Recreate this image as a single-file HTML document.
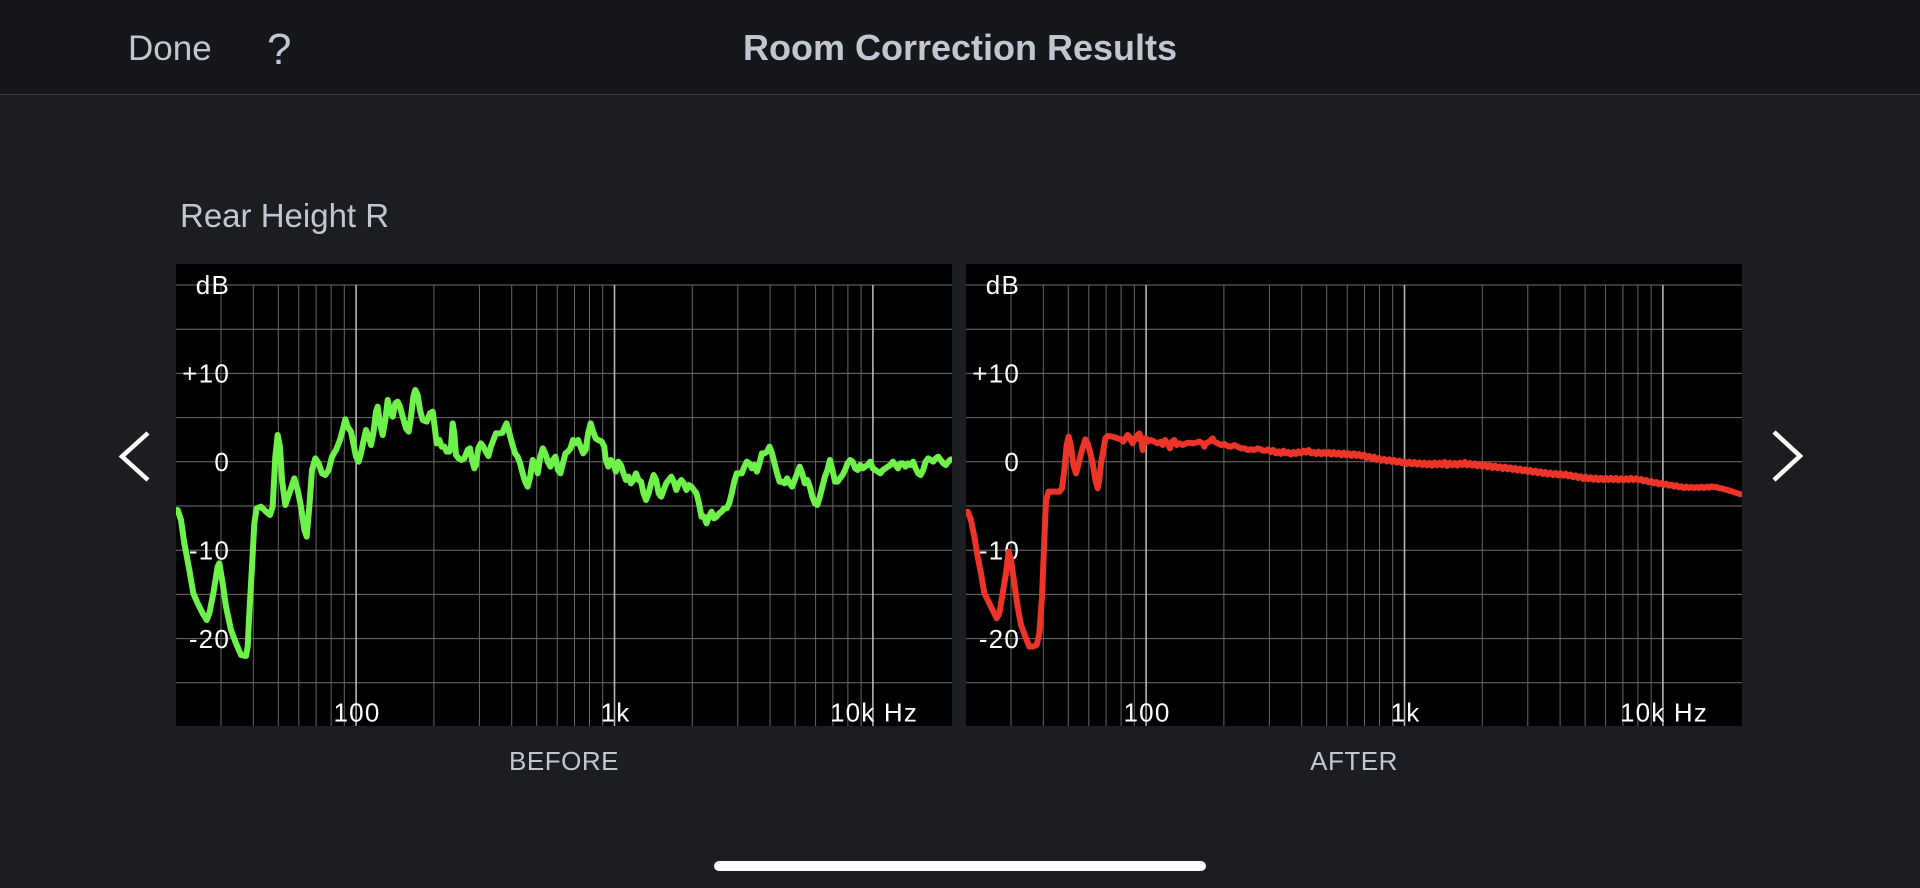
<!DOCTYPE html>
<html>
<head>
<meta charset="utf-8">
<style>
  html, body { margin:0; padding:0; width:1920px; height:888px; overflow:hidden; background:#1c1d21; }
  svg { display:block; }
  .ui { font-family:"Liberation Sans", Arial, sans-serif; fill:#c0c7d1; }
  .ax { font-family:"Liberation Sans", Arial, sans-serif; fill:#ffffff; font-size:26px; letter-spacing:1.2px; }
</style>
</head>
<body>
<svg width="1920" height="888" viewBox="0 0 1920 888" xmlns="http://www.w3.org/2000/svg">
  <defs>
    <clipPath id="cc"><rect x="0" y="0" width="776" height="462"/></clipPath>
    <g id="grid">
      <rect x="0" y="0" width="776" height="462" fill="#000"/>
      <g stroke="#6f6f6f" stroke-width="1">
        <line x1="0" x2="776" y1="21" y2="21"/>
        <line x1="0" x2="776" y1="65.2" y2="65.2"/>
        <line x1="0" x2="776" y1="109.4" y2="109.4"/>
        <line x1="0" x2="776" y1="153.6" y2="153.6"/>
        <line x1="0" x2="776" y1="197.8" y2="197.8"/>
        <line x1="0" x2="776" y1="242" y2="242"/>
        <line x1="0" x2="776" y1="286.2" y2="286.2"/>
        <line x1="0" x2="776" y1="330.4" y2="330.4"/>
        <line x1="0" x2="776" y1="374.6" y2="374.6"/>
        <line x1="0" x2="776" y1="418.8" y2="418.8"/>
      </g>
      <g stroke="#666" stroke-width="1">
        <line x1="45" x2="45" y1="21" y2="462"/>
        <line x1="77.3" x2="77.3" y1="21" y2="462"/>
        <line x1="102.3" x2="102.3" y1="21" y2="462"/>
        <line x1="122.8" x2="122.8" y1="21" y2="462"/>
        <line x1="140.1" x2="140.1" y1="21" y2="462"/>
        <line x1="155.1" x2="155.1" y1="21" y2="462"/>
        <line x1="168.3" x2="168.3" y1="21" y2="462"/>
        <line x1="257.9" x2="257.9" y1="21" y2="462"/>
        <line x1="303.4" x2="303.4" y1="21" y2="462"/>
        <line x1="335.7" x2="335.7" y1="21" y2="462"/>
        <line x1="360.7" x2="360.7" y1="21" y2="462"/>
        <line x1="381.2" x2="381.2" y1="21" y2="462"/>
        <line x1="398.5" x2="398.5" y1="21" y2="462"/>
        <line x1="413.5" x2="413.5" y1="21" y2="462"/>
        <line x1="426.7" x2="426.7" y1="21" y2="462"/>
        <line x1="516.3" x2="516.3" y1="21" y2="462"/>
        <line x1="561.8" x2="561.8" y1="21" y2="462"/>
        <line x1="594.1" x2="594.1" y1="21" y2="462"/>
        <line x1="619.1" x2="619.1" y1="21" y2="462"/>
        <line x1="639.6" x2="639.6" y1="21" y2="462"/>
        <line x1="656.9" x2="656.9" y1="21" y2="462"/>
        <line x1="671.9" x2="671.9" y1="21" y2="462"/>
        <line x1="685.1" x2="685.1" y1="21" y2="462"/>
      </g>
      <g stroke="#b4b4b4" stroke-width="1.6">
        <line x1="180.1" x2="180.1" y1="21" y2="462"/>
        <line x1="438.5" x2="438.5" y1="21" y2="462"/>
        <line x1="696.9" x2="696.9" y1="21" y2="462"/>
      </g>
      <g class="ax" text-anchor="end">
        <text x="54" y="30">dB</text>
        <text x="54" y="118.6">+10</text>
        <text x="54" y="207">0</text>
        <text x="54" y="295.4">-10</text>
        <text x="54" y="383.8">-20</text>
      </g>
      <g class="ax" text-anchor="middle">
        <text x="181" y="457.7">100</text>
        <text x="439.5" y="457.7">1k</text>
        <text x="698" y="457.7">10k Hz</text>
      </g>
    </g>
  </defs>

  <!-- header -->
  <rect x="0" y="0" width="1920" height="94" fill="#16171b"/>
  <rect x="0" y="94" width="1920" height="1" fill="#3a3b40"/>
  <text class="ui" x="128" y="60" font-size="35">Done</text>
  <text class="ui" x="267" y="64" font-size="44">?</text>
  <text class="ui" x="960" y="60" font-size="36" font-weight="bold" text-anchor="middle">Room Correction Results</text>

  <text class="ui" x="180" y="227" font-size="33">Rear Height R</text>

  <!-- BEFORE chart -->
  <g transform="translate(176,264)">
    <use href="#grid"/>
    <g clip-path="url(#cc)" fill="none" stroke="#6ef24a" stroke-width="6" stroke-linejoin="round" stroke-linecap="round">
      <g transform="translate(0,116) scale(0.33333)">
        <path vector-effect="non-scaling-stroke" d="M5,390 L15,420 25,490 40,570 52,640 65,670 80,700 92,720 100,700 112,640 125,560 130,550 140,610 150,680 165,750 180,790 195,825 210,828 215,800 220,700 228,560 235,430 242,385 255,380 270,395 282,405 290,380 298,230 305,165 312,200 318,300 328,375 340,340 355,295 365,330 375,380 385,450 392,470 400,380 408,270 418,235 428,250 438,280 448,285 458,270 468,230 480,210 492,180 500,150 508,118 515,140 525,155 540,230 548,245 555,220 562,185 570,150 578,170 585,195 592,160 600,95 605,80 612,130 620,165 628,120 635,60 642,90 650,110 658,70 665,65 672,80 680,110 690,145 698,155 705,110 712,50 718,30 725,45 732,90 740,120 752,125 762,100 770,95 776,140 782,190 790,180 797,200 805,200 812,215 820,215 825,200 830,130 835,160 840,225 848,235 856,240 865,235 875,210 882,205 888,240 895,265 900,255"/>
      </g>
      <g transform="translate(-6,-4) scale(0.50378,0.33333)">
        <path vector-effect="non-scaling-stroke" d="M607,615 L612,565 617,550 622,560 627,575 632,588 637,560 642,540 647,520 654,520 660,518 665,500 668,490 672,510 678,545 685,580 690,590 695,610 700,640 705,665 710,680 715,650 720,600 725,610 730,640 735,590 740,565 745,580 750,605 755,620 760,600 765,590 770,630 775,640 780,610 785,580 790,575 795,565 800,540 805,550 810,540 815,560 820,580 825,570 830,520 835,490 840,515 845,535 850,540 857,545 862,560 865,600 870,620 875,600 880,610 885,635 890,605 895,615 900,640 905,660 910,650 915,670 920,660 925,640 930,660 935,665 940,700 945,720 950,700 955,670 960,645 965,660 970,700 975,710 980,690 985,670 990,660 995,650 1000,665 1005,690 1010,670 1015,660 1020,670 1025,690 1030,675 1035,680 1040,690 1045,700 1050,730 1055,770 1060,770 1065,790 1070,770 1075,755 1080,775 1085,770 1090,760 1095,755 1100,745 1105,745 1110,730 1115,700 1120,665 1125,640 1130,640 1135,640 1140,620 1145,605 1150,610 1155,625 1160,615 1165,635 1170,610 1175,580 1180,580 1185,575 1190,560 1195,580 1200,610 1205,640 1210,665 1215,665 1220,670 1225,655 1230,670 1235,680 1240,660 1245,640 1250,620 1255,640 1260,670 1265,660 1270,680 1275,710 1280,730 1285,735 1290,710 1295,680 1300,650 1305,630 1310,600 1315,630 1320,665 1325,665 1330,655 1335,645 1340,630 1345,610 1350,600 1355,605 1360,625 1365,630 1370,615 1375,625 1380,620 1385,615 1390,605 1395,625 1400,630 1405,635 1410,640 1415,630 1420,625 1425,620 1430,615 1435,605 1440,615 1445,625 1450,610 1455,610 1460,620 1465,610 1470,615 1475,605 1480,625 1485,640 1490,645 1495,630 1500,605 1505,595 1510,600 1515,605 1520,595 1525,590 1530,600 1535,610 1540,615 1545,605 1550,598"/>
      </g>
    </g>
  </g>

  <!-- AFTER chart -->
  <g transform="translate(966,264)">
    <use href="#grid"/>
    <g clip-path="url(#cc)" fill="none" stroke="#ec3428" stroke-width="6" stroke-linejoin="round" stroke-linecap="round">
      <g transform="translate(0,116) scale(0.33333)">
        <path vector-effect="non-scaling-stroke" d="M5,395 L15,420 25,470 35,530 45,580 55,640 70,670 80,690 92,715 100,700 110,640 120,580 128,515 135,540 145,610 155,680 165,735 178,770 190,800 200,800 212,795 220,760 228,650 235,480 240,360 248,335 265,335 280,335 288,325 295,270 302,195 308,170 315,200 322,255 330,280 338,250 348,210 358,178 365,190 372,215 380,250 388,300 395,325 400,300 405,250 412,210 418,175 425,168 440,170 455,175 465,178 472,185 478,175 485,165 490,170 495,182 500,190 505,175 510,178 515,165 520,160 525,175 530,210 535,175 540,175 545,185 555,180 565,185 575,190 585,185 590,195 597,180 605,190 612,205 618,185 625,180 632,195 640,190 650,195 660,190 670,188 680,190 690,188 700,185 710,190 715,200 720,190 730,185 740,175 745,185 755,190 765,195 775,192 785,198 795,200 805,195 815,200 825,205 835,205 845,210 855,208 865,210 875,205 885,208 890,212 900,212"/>
      </g>
      <g transform="translate(-6,-4) scale(0.50378,0.33333)">
        <path vector-effect="non-scaling-stroke" d="M607,572 L612,568 617,576 622,570 627,580 632,574 637,582 642,572 647,580 652,576 657,584 662,576 667,582 672,574 677,580 682,572 687,578 692,570 697,580 702,576 707,582 712,575 717,583 722,576 727,582 732,576 737,584 742,576 747,584 752,578 757,586 762,578 767,586 772,580 777,588 782,580 787,588 792,582 797,590 802,584 807,594 812,588 817,596 822,590 827,600 832,594 837,602 842,597 847,604 852,598 857,606 862,600 867,608 872,602 877,610 882,604 887,612 892,605 897,613 902,606 907,614 912,607 917,615 922,608 927,616 932,609 937,617 942,608 947,616 952,608 957,616 962,606 967,618 972,608 977,616 982,609 987,617 992,608 997,615 1002,606 1007,616 1012,609 1017,617 1022,610 1027,619 1032,612 1037,620 1042,613 1047,622 1052,615 1057,624 1062,617 1067,625 1072,619 1077,627 1082,620 1087,628 1092,622 1097,630 1102,624 1107,632 1112,626 1117,634 1122,628 1127,636 1132,630 1137,638 1142,632 1147,640 1152,634 1157,642 1162,636 1167,644 1172,638 1177,645 1182,639 1187,646 1192,640 1197,647 1202,641 1207,649 1212,644 1217,652 1222,646 1227,654 1232,649 1237,657 1242,650 1247,658 1252,652 1257,659 1262,653 1267,660 1272,654 1277,660 1282,654 1287,660 1292,654 1297,660 1302,654 1307,661 1312,655 1317,661 1322,655 1327,660 1332,654 1337,660 1342,655 1347,661 1352,657 1357,664 1362,660 1367,667 1372,663 1377,670 1382,666 1387,673 1392,669 1397,675 1402,671 1407,677 1412,674 1417,680 1422,676 1427,682 1432,679 1437,684 1442,680 1447,684 1452,681 1457,684 1462,681 1467,684 1472,680 1477,684 1482,680 1487,683 1492,679 1497,682 1502,681 1507,685 1512,685 1517,688 1522,689 1527,692 1532,694 1537,697 1542,699 1547,702 1550,703"/>
      </g>
    </g>
  </g>

  <!-- captions -->
  <text class="ui" x="564" y="770" font-size="26" text-anchor="middle" letter-spacing="0.5">BEFORE</text>
  <text class="ui" x="1354" y="770" font-size="26" text-anchor="middle" letter-spacing="0.5">AFTER</text>

  <!-- arrows -->
  <polyline points="148,433 122,456.5 148,480" fill="none" stroke="#fff" stroke-width="4.5" stroke-linecap="butt" stroke-linejoin="miter"/>
  <polyline points="1774,432 1800,456 1774,480" fill="none" stroke="#fff" stroke-width="4.5" stroke-linecap="butt" stroke-linejoin="miter"/>

  <!-- home indicator -->
  <rect x="714" y="861" width="492" height="10" rx="5" ry="5" fill="#ffffff"/>
</svg>
</body>
</html>
